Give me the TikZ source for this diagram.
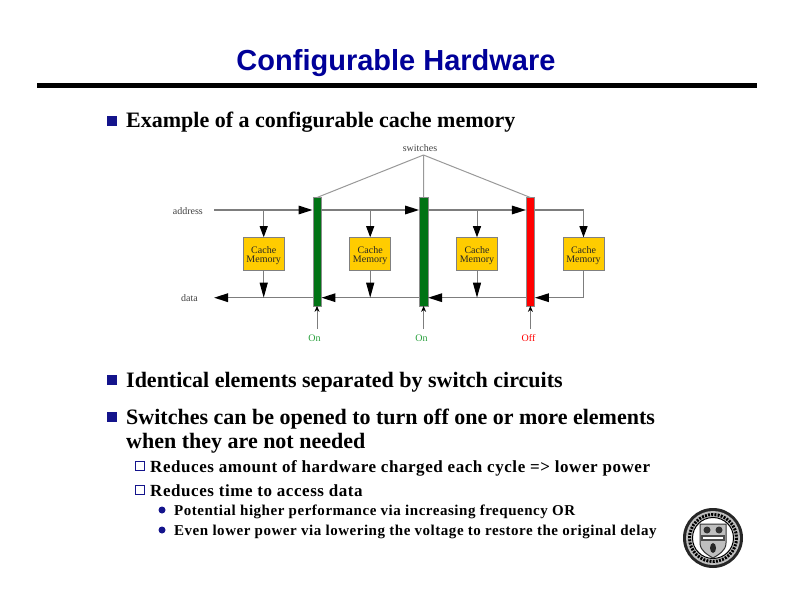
\documentclass[tikz,border=0pt]{standalone}
\usepackage{fontspec}
\setmainfont{Liberation Serif}
\newfontfamily\titlefont{Liberation Sans}
\newfontfamily\bodyfonta{Liberation Serif}
\newfontfamily\bodyfontb[LetterSpace=3.3]{Liberation Serif}
\newfontfamily\bodyfontc[LetterSpace=3.5]{Liberation Serif}
\usetikzlibrary{arrows.meta}
\definecolor{navy}{RGB}{0,0,153}
\definecolor{bulletblue}{RGB}{20,20,140}
\definecolor{gold}{RGB}{255,204,0}
\definecolor{wire}{RGB}{125,125,125}
\definecolor{onbar}{RGB}{0,115,20}
\definecolor{offbar}{RGB}{255,0,0}
\definecolor{ongreen}{RGB}{40,160,60}
\newcommand{\cachetext}{\rule{0pt}{11pt}Cache\\Memory}
\tikzset{
 lvlone/.style={anchor=base west,inner sep=0pt,font=\bodyfonta\bfseries\fontsize{22}{26}\selectfont,align=left},
 lvltwo/.style={anchor=base west,inner sep=0pt,font=\bodyfontb\bfseries\fontsize{17}{20}\selectfont},
 lvlthree/.style={anchor=base west,inner sep=0pt,font=\bodyfontc\bfseries\fontsize{15}{18}\selectfont},
 sqbullet/.style={draw=none,fill=bulletblue,minimum size=10pt,inner sep=0pt},
 hollowbullet/.style={draw=bulletblue,fill=white,line width=1pt,minimum size=9.5pt,inner sep=0pt},
 dotbullet/.style={circle,fill=bulletblue,minimum size=7pt,inner sep=0pt},
 cachebox/.style={draw=gray,line width=.6pt,fill=gold,minimum width=41pt,minimum height=32.5pt,inner sep=0pt,align=center,font=\fontsize{10}{8.5}\selectfont,text=black!85},
 switchbar/.style={draw=black!45,line width=.4pt,minimum width=8.5pt,minimum height=108pt,inner sep=0pt},
 wirelabel/.style={font=\fontsize{10}{10}\selectfont,inner sep=0pt,text=black!75},
 buswire/.style={draw=wire,line width=1.5pt},
 bigarrow/.style={buswire,-{Triangle[length=14pt,width=8.5pt,color=black]}},
 tapin/.style={draw=wire,line width=1pt,-{Triangle[length=11pt,width=8pt,color=black]}},
 tapout/.style={draw=wire,line width=1pt,-{Triangle[length=15pt,width=8pt,color=black]}},
 smallarrow/.style={draw=wire,line width=.8pt,-{Stealth[length=6pt,width=5pt,color=black]}},
 ctrl/.style={draw=black!40,line width=1pt}
}
\begin{document}
\begin{tikzpicture}[x=1pt,y=-1pt]
\useasboundingbox (0,0) rectangle (792,612);
\node[anchor=base,inner sep=0pt,text=navy,font=\titlefont\bfseries\fontsize{29}{30}\selectfont] (title) at (396,70.5) {Configurable Hardware};
\fill[black] (37,83) rectangle (757,88.3);
% text
\node[sqbullet] (b1) at (112,121) {};
\node[lvlone] (t1) at (126,128) {Example of a configurable cache memory};
\node[sqbullet] (b2) at (112,380) {};
\node[lvlone] (t2) at (126,387) {Identical elements separated by switch circuits};
\node[sqbullet] (b3) at (112,417) {};
\node[lvlone] (t3) at (126,424) {Switches can be opened to turn off one or more elements};
\node[lvlone] (t3b) at (126,448) {when they are not needed};
\node[hollowbullet] (b4) at (140,466) {};
\node[lvltwo] (t4) at (150,472) {Reduces amount of hardware charged each cycle => lower power};
\node[hollowbullet] (b5) at (140,490) {};
\node[lvltwo] (t5) at (150,496) {Reduces time to access data};
\node[dotbullet] (b6) at (162,510) {};
\node[lvlthree] (t6) at (174,515) {Potential higher performance via increasing frequency OR};
\node[dotbullet] (b7) at (162,530) {};
\node[lvlthree] (t7) at (174,535) {Even lower power via lowering the voltage to restore the original delay};
% diagram
\node[wirelabel] (sw) at (420,148) {switches};
\coordinate (apex) at (423.5,155);
\node[wirelabel,anchor=east] (addr) at (203,211.5) {address};
\node[wirelabel,anchor=east] (data) at (198,298.5) {data};
\coordinate (addrstart) at (214,210);
\coordinate (datastart) at (214,297.7);
\node[switchbar,fill=onbar] (s1) at (317,251.7) {};
\node[switchbar,fill=onbar] (s2) at (423.6,251.7) {};
\node[switchbar,fill=offbar] (s3) at (530.4,251.7) {};
\node[cachebox] (c1) at (263.7,253.8) {\cachetext};
\node[cachebox] (c2) at (370.2,253.8) {\cachetext};
\node[cachebox] (c3) at (477,253.8) {\cachetext};
\node[cachebox] (c4) at (583.5,253.8) {\cachetext};
\draw[ctrl] (apex) -- (s1.north);
\draw[ctrl] (apex) -- (s2.north);
\draw[ctrl] (apex) -- (s3.north);
% address bus
\draw[bigarrow] (addrstart) -- (s1.west |- addrstart);
\draw[bigarrow] (s1.east |- addrstart) -- (s2.west |- addrstart);
\draw[bigarrow] (s2.east |- addrstart) -- (s3.west |- addrstart);
\draw[buswire] (s3.east |- addrstart) -| (c4.north);
% data bus
\draw[bigarrow] (s1.west |- datastart) -- (datastart);
\draw[bigarrow] (s2.west |- datastart) -- (s1.east |- datastart);
\draw[bigarrow] (s3.west |- datastart) -- (s2.east |- datastart);
\draw[bigarrow] (c4.south) |- (s3.east |- datastart);
% cache taps
\foreach \c in {c1,c2,c3,c4} {
 \draw[tapin] (\c.north |- addrstart) -- (\c.north);
}
\foreach \c in {c1,c2,c3} {
 \draw[tapout] (\c.south) -- (\c.south |- datastart);
}
% control
\node[wirelabel,text=ongreen,anchor=base] (on1) at (314.5,341.5) {On};
\node[wirelabel,text=ongreen,anchor=base] (on2) at (421.5,341.5) {On};
\node[wirelabel,text=offbar,anchor=base] (off) at (528.5,341.5) {Off};
\coordinate (cs1) at (317,329);
\coordinate (cs2) at (423.6,329);
\coordinate (cs3) at (530.4,329);
\draw[smallarrow] (cs1) -- (s1.south);
\draw[smallarrow] (cs2) -- (s2.south);
\draw[smallarrow] (cs3) -- (s3.south);
% seal
\begin{scope}[shift={(713,538)}]
\fill[black!85] (0,0) circle (30);
\fill[white!75!black] (0,0) circle (27);
\draw[black,line width=3pt,dash pattern=on 2pt off 1.2pt] (0,0) circle (23.5);
\fill[white] (0,0) circle (20.5);
\draw[black,line width=1pt] (0,0) circle (20.5);
\fill[black!25] (-13,-14) -- (13,-14) -- (13,5) .. controls (13,13) and (5,17) .. (0,20) .. controls (-5,17) and (-13,13) .. (-13,5) -- cycle;
\draw[black!80,line width=1pt] (-13,-14) -- (13,-14) -- (13,5) .. controls (13,13) and (5,17) .. (0,20) .. controls (-5,17) and (-13,13) .. (-13,5) -- cycle;
\fill[black!80] (-6,-8) circle (3.5);
\fill[black!80] (6,-8) circle (3.5);
\fill[black!70] (-12,-3) rectangle (12,3);
\fill[white] (-10,-1) rectangle (10,1);
\fill[black!85] (0,10) ellipse (3 and 5);
\end{scope}
\end{tikzpicture}
\end{document}
